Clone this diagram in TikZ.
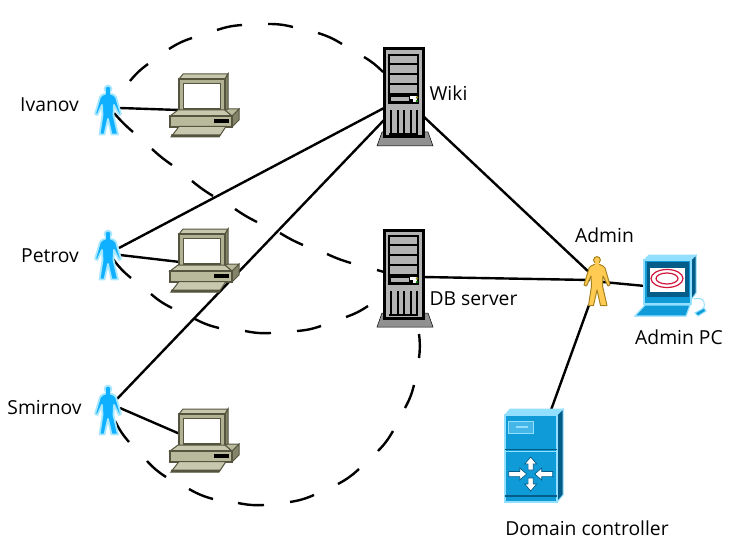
\documentclass[tikz,border=0pt]{standalone}
\usepackage{fontspec}
\setmainfont{Open Sans}
\definecolor{pcface}{HTML}{B9B99B}
\definecolor{pckey}{HTML}{C8C8AE}
\definecolor{pcdark}{HTML}{55553F}
\definecolor{pcmid}{HTML}{84846A}
\definecolor{srvgray}{HTML}{B3B3B3}
\definecolor{srvbase}{HTML}{919191}
\definecolor{pblue}{HTML}{0FB0FF}
\definecolor{phalo}{HTML}{A8E8FF}
\definecolor{porange}{HTML}{FFCB52}
\definecolor{pbrown}{HTML}{A5821E}
\definecolor{cblue}{HTML}{0F9BD7}
\definecolor{cdark}{HTML}{045C88}
\definecolor{clight}{HTML}{93DFFF}
\definecolor{credd}{HTML}{D2143C}
\tikzset{
  x=1pt,y=-1pt,
  anchorbox/.style={inner sep=0pt,outer sep=0pt,minimum width=#1,minimum height=#1},
  lbl/.style={font=\fontsize{19.3}{21}\selectfont,inner sep=0pt,text=black},
  link/.style={draw=black,line width=2.4pt},
  group/.style={draw=black,line width=2.4pt},
  pics/person/.style n args={3}{code={
    \def\pth{(-1.5,-17) -- (-6,-15) -- (-8,-13) -- (-13,4) -- (-10.5,5) -- (-6,-5) -- (-5.5,5) -- (-8.5,24.5) -- (-3.5,24.5) -- (0,9) -- (3.5,24.5) -- (10,24.5) -- (5.5,5) -- (6,-5) -- (11,5) -- (13,4) -- (8,-13) -- (6,-15) -- (1.5,-17) -- cycle}
    \draw[#2,line width=#3,fill=#1,line join=round] \pth;
    \draw[#2,line width=#3,fill=#1] (0,-21) circle (3.4);
    \fill[#1] (-1.6,-20) rectangle (1.6,-14);
  }},
  pics/desktop/.style={code={
    \draw[pcdark,fill=pckey,line width=1pt] (0,0) -- (4,-5) -- (49,-5) -- (46,0) -- cycle;
    \draw[pcdark,fill=pcmid,line width=1pt] (46,0) -- (49,-5) -- (49,30) -- (46,35) -- cycle;
    \draw[pcdark,fill=pcface!85!pcmid,line width=1.5pt] (0,0) rectangle (46,35);
    \draw[pcdark,fill=white,line width=1.8pt] (4.5,4.5) rectangle (41.5,30);
    \draw[pcdark,fill=pckey,line width=1pt] (-9,37) -- (-1,31) -- (46,31) -- (53,37) -- cycle;
    \draw[pcdark,fill=pcmid,line width=1pt] (53,37) -- (60,30) -- (60,41) -- (53,48) -- cycle;
    \draw[pcdark,fill=pcface,line width=1pt] (46,31) -- (49,30) -- (60,30) -- (53,37) -- cycle;
    \draw[pcdark,fill=pcface,line width=1.2pt] (-9,37) rectangle (53,48);
    \fill[black] (35,40) rectangle (50,44);
    \draw[pcdark,fill=pckey,line width=1pt] (0,47.5) -- (47,47.5) -- (40,58) -- (-8,58) -- cycle;
    \fill[pcdark] (-8,55.5) -- (41.5,55.5) -- (40,58) -- (-8,58) -- cycle;
  }},
  pics/tower/.style={code={
    \draw[black,fill=srvbase,line width=.5pt] (-7,97) -- (-2,83) -- (44,83) -- (49,97) -- cycle;
    \draw[black,fill=srvgray,line width=3pt] (0,0) rectangle (39,88);
    \draw[black,fill=srvgray,line width=2pt] (5,6) rectangle (34,54);
    \foreach \yy in {15,25,35,45} \draw[black,line width=2pt] (5,\yy) -- (34,\yy);
    \fill[black] (5,45) rectangle (34,54);
    \fill[srvgray] (7,48) rectangle (25,52);
    \fill[white] (26,47) rectangle (33,53);
    \fill[black] (26,50) rectangle (29,53);
    \fill[olive] (33,48.5) circle (1.3);
    \fill[green!50!black] (33,52) circle (1.3);
    \foreach \xx in {6,12.5,19,25.5,32} \fill[black] (\xx,61) rectangle (\xx+2.2,84);
    \draw[black,line width=2pt] (5,85) -- (34,85);
  }}
}
\begin{document}
\begin{tikzpicture}
\useasboundingbox (0,0) rectangle (733,556);
% named places
\node[anchorbox=30pt] (ivanov) at (108,110) {};
\node[anchorbox=30pt] (petrov) at (108,255) {};
\node[anchorbox=30pt] (smirnov) at (108,410) {};
\coordinate (pc1) at (179,110);
\coordinate (pc2) at (180,262);
\coordinate (pc3) at (180,434);
\coordinate (wikiw) at (384,108);
\coordinate (wikis) at (385,119);
\coordinate (wikie) at (423,116);
\coordinate (dbe) at (423,277);
\coordinate (admw) at (592,275);
\coordinate (admd) at (590,280);
\coordinate (adme) at (603,282);
\coordinate (adms) at (589,305);
\coordinate (adpc) at (645,286);
\coordinate (dct) at (551,410);
\coordinate (p1) at (120,108);
\coordinate (p2) at (119,248);
\coordinate (p2b) at (120,255);
\coordinate (p3) at (117,399);
\coordinate (p3b) at (120,408);
% dashed groups, dash by dash as printed
\draw[group,bend left=7]
  (130,81) to (148,64) (169,49) to (192,38) (217,30) to (242,25) (268,24) to (293,27)
  (318,33) to (342,44) (364,57) to (383,72);
\draw[group,bend right=4]
  (114,113) to (133,132) (152,149) to (172,165) (192,181) to (213,196) (235,209) to (257,222)
  (280,233) to (303,245) (327,254) to (351,263) (377,270) to (384,272);
\draw[group,bend right=7]
  (113,259) to (131,278) (151,294) to (172,308) (195,319) to (219,328) (245,331) to (271,333)
  (297,331) to (321,326) (346,317) to (368,306);
\draw[group,bend right=7]
  (115,421) to (129,442) (147,461) to (166,477) (189,489) to (213,499) (238,503) to (264,505)
  (290,502) to (314,495) (338,484) to (359,469) (378,451) to (393,431) (405,408) to (414,385)
  (419,358) to (419,334);
% links
\draw[link] (p1) -- (pc1);
\draw[link] (p2b) -- (pc2);
\draw[link] (p3b) -- (pc3);
\draw[link] (p2) -- (wikiw);
\draw[link] (p3) -- (wikis);
\draw[link] (wikie) -- (admw);
\draw[link] (dbe) -- (admd);
\draw[link] (adme) -- (adpc);
\draw[link] (adms) -- (dct);
% people
\pic at (108,110) {person={pblue}{phalo}{1.8pt}};
\pic at (108,255) {person={pblue}{phalo}{1.8pt}};
\pic at (108,410) {person={pblue}{phalo}{1.8pt}};
\pic at (597,281) {person={porange}{pbrown}{1pt}};
% computers
\pic at (179,79) {desktop};
\pic at (179,234) {desktop};
\pic at (179,414) {desktop};
% servers
\pic at (384,49) {tower};
\pic at (384,230) {tower};
% admin PC
\draw[clight,fill=clight,line width=1pt] (644,260) -- (649,255) -- (696,255) -- (691,260) -- cycle;
\draw[clight,fill=cdark,line width=1pt] (691,260) -- (696,255) -- (696,293) -- (691,300) -- cycle;
\draw[clight,fill=cblue,line width=1.5pt] (644,260) rectangle (691,304);
\fill[cdark] (646.5,262) rectangle (689,296.5);
\fill[white] (650,268) rectangle (685,292);
\draw[credd,line width=1.2pt] (667,278.5) ellipse (16 and 9);
\draw[credd,line width=1.2pt] (667,278.5) ellipse (11 and 5.5);
\draw[clight,fill=cblue,line width=1.2pt] (645,305) -- (690,305) -- (686,316) -- (635,316) -- cycle;
\draw[clight,line width=1pt] (694,299) .. controls (705,296) and (706,305) .. (703,309);
\draw[clight,fill=cblue,line width=1pt] (695,313) -- (704,308) -- (706,311) -- (698,316) -- cycle;
% domain controller
\draw[clight,fill=clight,line width=1pt] (505,415) -- (510,409) -- (563,409) -- (557,415) -- cycle;
\draw[clight,fill=cdark,line width=1pt] (557,415) -- (563,409) -- (563,495) -- (557,502) -- cycle;
\draw[clight,fill=cblue,line width=1.5pt] (505,415) rectangle (557,502);
\draw[clight,fill=clight!40!cblue,line width=1pt] (508,421) rectangle (533,433);
\draw[clight,line width=2pt] (516,427) -- (528,427);
\draw[cdark,line width=1.2pt] (505,449.5) -- (557,449.5);
\draw[clight,line width=1pt] (505,451) -- (557,451);
\draw[cdark,line width=2pt] (505,496) -- (557,496);
\begin{scope}[shift={(530.7,474)}]
  \foreach \a in {0,180}
    \draw[cdark,fill=white,line width=.7pt,rotate=\a]
      (-22,-2.6) -- (-11,-2.6) -- (-11,-6) -- (-4,0) -- (-11,6) -- (-11,2.6) -- (-22,2.6) -- cycle;
  \foreach \a in {90,270}
    \draw[cdark,fill=white,line width=.7pt,rotate=\a]
      (4,-2.6) -- (10,-2.6) -- (10,-6) -- (17,0) -- (10,6) -- (10,2.6) -- (4,2.6) -- cycle;
\end{scope}
% labels
\node[lbl] (tivanov) at (49.5,105) {Ivanov};
\node[lbl] (tpetrov) at (50,256) {Petrov};
\node[lbl] (tsmirnov) at (44.5,408) {Smirnov};
\node[lbl] (twiki) at (448.5,93) {Wiki};
\node[lbl] (tdb) at (473.5,299) {DB server};
\node[lbl] (tadmin) at (604.5,235) {Admin};
\node[lbl] (tadmpc) at (679,337) {Admin PC};
\node[lbl] (tdc) at (587,528) {Domain controller};
\end{tikzpicture}
\end{document}
